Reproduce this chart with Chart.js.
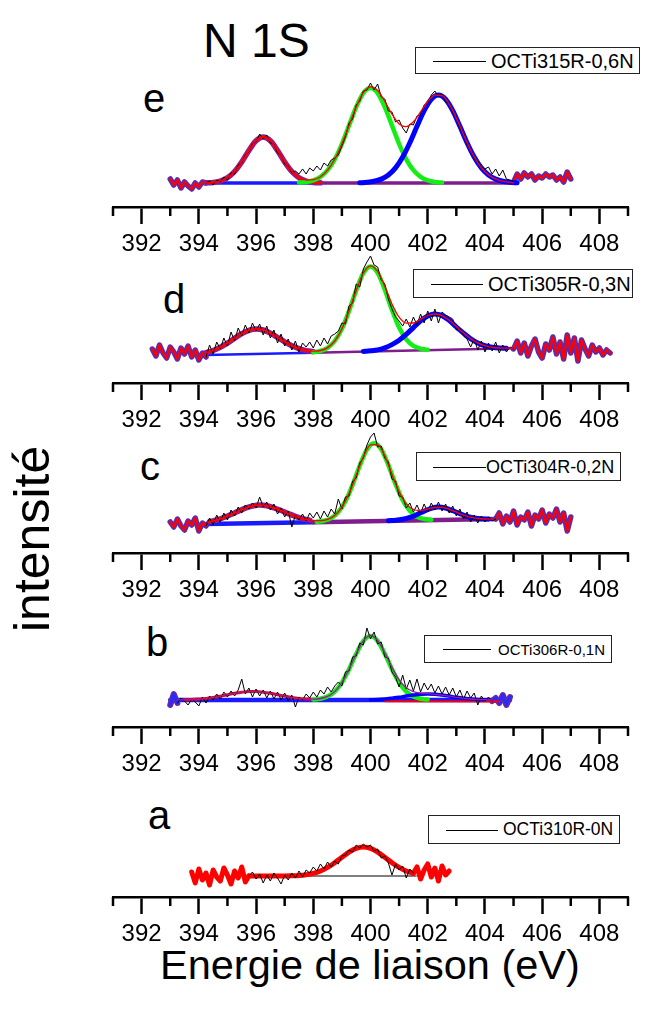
<!DOCTYPE html>
<html>
<head>
<meta charset="utf-8">
<script src="https://cdn.jsdelivr.net/npm/chart.js@4.4.0/dist/chart.umd.min.js"></script>
<style>
body { margin: 0; background: #fff; }
#page { position: relative; width: 662px; height: 1010px; overflow: hidden; font-family: 'Liberation Sans', Arial, sans-serif; }
#page canvas { position: absolute; left: 0; }
.txt { position: absolute; color: #000; white-space: nowrap; line-height: 1; }
.leg { position: absolute; box-sizing: border-box; border: 1px solid #222; background: #fff; }
.leg .ln { position: absolute; top: 50%; border-top: 1px solid #000; }
.leg .lt { position: absolute; top: 50%; transform: translateY(-50%); line-height: 1; white-space: nowrap; color: #000; }
</style>
</head>
<body>
<div id="page">
  <div class="txt" style="left:203px;top:17px;font-size:48px;">N 1S</div>
  <div class="txt" style="left:7px;top:632px;font-size:50px;transform-origin:0 0;transform:rotate(-90deg);">intensité</div>
  <div class="txt" style="left:160px;top:944px;font-size:41.5px;">Energie de liaison (eV)</div>

  <div class="txt" style="left:143px;top:78px;font-size:40px;">e</div>
  <div class="txt" style="left:163px;top:279px;font-size:40px;">d</div>
  <div class="txt" style="left:140px;top:446px;font-size:40px;">c</div>
  <div class="txt" style="left:146px;top:622px;font-size:40px;">b</div>
  <div class="txt" style="left:148px;top:795px;font-size:40px;">a</div>

  <canvas id="pe"></canvas>
  <canvas id="pd"></canvas>
  <canvas id="pc"></canvas>
  <canvas id="pb"></canvas>
  <canvas id="pa"></canvas>

  <div class="leg" style="left:415px;top:47px;width:225px;height:27px;"><span class="ln" style="left:17px;width:53px;"></span><span class="lt" style="left:75px;font-size:20px;">OCTi315R-0,6N</span></div>
  <div class="leg" style="left:413px;top:269px;width:220px;height:29px;"><span class="ln" style="left:17px;width:52px;"></span><span class="lt" style="left:74px;font-size:20px;">OCTi305R-0,3N</span></div>
  <div class="leg" style="left:416px;top:452px;width:205px;height:29px;"><span class="ln" style="left:16px;width:53px;"></span><span class="lt" style="left:69px;font-size:18px;">OCTi304R-0,2N</span></div>
  <div class="leg" style="left:424px;top:635px;width:188px;height:28px;"><span class="ln" style="left:18px;width:48px;"></span><span class="lt" style="left:73px;font-size:15px;">OCTi306R-0,1N</span></div>
  <div class="leg" style="left:428px;top:815px;width:192px;height:29px;"><span class="ln" style="left:17px;width:52px;"></span><span class="lt" style="left:74px;font-size:17.5px;">OCTi310R-0N</span></div>
</div>
<script>
// x axis
const majorTicks = [392, 394, 396, 398, 400, 402, 404, 406, 408];
const minorTicks = [391, 393, 395, 397, 399, 401, 403, 405, 407, 409];
const RAW_STEP = 0.125;
const FIT_STEP = 0.25;

// panel e  (OCTi315R-0,6N)
const eRawX0 = 393.0;
const eRaw = [28,22,27,19,25,21,18,24,20,25,24,
  26,22,27,25,30,27,34,33,42,44,52,55,63,65,73,68,72,64,63,54,52,43,41,34,36,33,38,33,39,36,
  41,37,44,41,47,49,52,61,70,84,88,102,106,116,117,124,117,123,110,108,96,95,85,87,79,74,83,82,
  91,92,102,104,112,116,110,113,105,104,94,90,78,74,62,58,48,46,40,38,40,33,38,31,37,28,27,25,
  33,28,34,30,33,27,31,29,33,30,32,27,30,25,35,28];
const eEnvX0 = 394.25;
const eEnv = [24,24.6,26,29.3,35.5,45,56.5,66.2,70,66.2,56.5,45,35.5,29.7,27,27.3,30.2,36.8,47.7,63,
  81.6,100,114.3,120.1,116.5,105.6,92.8,83.1,80.4,85.2,95.1,105.5,111.9,111.3,102.8,88.9,72.4,56.7,
  44.1,35.2,29.6,26.6,25.1,24.3];
const eGreenX0 = 397.5;
const eGreen = [24.4,25,26.7,30.2,36.8,47.7,63,81.6,100,113.9,119,113.9,100,81.6,63,47.7,36.8,30.2,26.7,25,24.4];
const eBlueX0 = 399.625;
const eBlue = [24.2,24.7,25.7,27.9,32,39.1,50,64.3,80.7,96.4,107.8,112,107.8,96.4,80.7,64.3,50,39.1,32,27.9,25.7,24.7,24.2];
const eRedX0 = 394.25;
const eRed = [24.2,24.6,26,29.3,35.5,45,56.5,66.2,70,66.2,56.5,45,35.5,29.3,26,24.6,24.2];
const eBaseX = [394.25, 398, 405];
const eBaseY = [24, 24, 24];

// panel d  (OCTi305R-0,3N)
const dRawX0 = 392.375;
const dRaw = [34,27,38,30,25,36,31,24,35,29,37,26,33,23,30,26,
  38,29,41,34,45,37,51,42,55,47,58,50,60,52,59,48,57,45,53,40,49,37,44,33,42,31,40,36,41,35,43,37,
  45,39,47,49,52,60,59,77,80,99,96,114,121,127,118,116,103,99,84,74,66,62,57,64,56,66,58,69,60,72,
  62,74,60,71,68,66,64,53,55,47,44,36,44,33,42,31,40,32,41,30,38,31,36,34,
  42,30,40,27,37,44,31,25,39,33,46,29,41,24,48,30,45,22,43,34,27,38,31,35,28,33,30];
const dEnvX0 = 394.25;
const dEnv = [30.3,32.5,35.7,39.9,44.7,49.4,52.7,54,53,49.9,45.6,41.2,37.2,34.3,32.4,31.9,32.5,35.4,42,54.1,
  72.1,92.6,110,117.2,111.5,96.6,79.1,65.9,59.9,60,63.7,67.5,69,67.4,62.7,56.4,49.9,44.3,40.1,37.4,
  35.7,35,34.8,34.8];
const dGreenX0 = 398.0;
const dGreen = [30.8,32,35.2,42,54.1,72.1,92.6,109.8,116.6,110.1,93.3,73,55.4,43.6,37.1,34.3,33.3];
const dBlueX0 = 399.75;
const dBlue = [31.6,32.2,33.1,35.2,38.4,42.7,48.7,55.4,62.1,67,69,67.4,62.7,56,49.9,44.3,40.1,37.4,35.7,35,34.8];
const dRedX0 = 394.25;
const dRed = [30.3,32.5,35.7,39.9,44.7,49.4,52.7,54,53,49.9,45.6,41.2,37.2,34.3,32.4,31.4];
const dBaseX = [394.25, 398, 405];
const dBaseY = [28, 30.3, 34.8];

// panel c  (OCTi304R-0,2N)
const cRawX0 = 393.0;
const cRaw = [31,26,34,27,23,32,28,35,22,30,27,
  35,28,38,31,40,33,43,37,46,40,48,44,50,45,56,46,51,43,49,39,45,36,42,26,38,33,39,32,40,35,
  41,34,42,36,44,39,54,44,56,57,72,75,90,95,108,116,120,106,107,95,91,74,72,57,56,45,50,41,48,40,
  49,41,50,43,51,42,49,40,47,37,44,34,41,31,38,30,37,31,36,32,34,
  40,29,37,31,42,28,36,33,41,27,38,34,43,30,39,35,44,31,40,22,36];
const cEnvX0 = 394.25;
const cEnv = [30.6,32,34.1,36.9,40.1,43.3,46,47.6,47.8,46.4,43.9,40.9,37.9,35.5,33.6,32.6,32.4,33.7,37.6,45.8,
  59.4,77.7,96.3,108.2,108.4,97.1,78.6,61.1,49.1,43.5,42.5,44,45.5,45.7,43.7,40.8,37.9,35.6,34.5,34,33.8];
const cGreenX0 = 398.125;
const cGreen = [31.3,32.3,34.9,41,51.9,68.2,87.4,103.5,109.8,103.7,87.9,68.9,52.9,42.2,36.3,34,33.2];
const cBlueX0 = 400.625;
const cBlue = [32.3,32.8,33.8,35.6,38.5,41.9,44.7,45.9,44.9,42.3,39.3,36.6,35,34.2,33.9];
const cRedX0 = 394.375;
const cRed = [31.3,33,35.5,38.4,41.7,44.8,47,47.9,47.2,45.2,42.5,39.4,36.7,34.4,32.9];
const cBaseX = [394.25, 398, 404.375];
const cBaseY = [29, 30.8, 33.9];

// panel b  (OCTi306R-0,1N)
const bRawX0 = 393.0;
const bRaw = [22,33,24,29,26,22,28,25,21,30,24,31,27,33,28,35,30,36,31,37,
  48,33,39,30,38,31,37,29,36,28,35,27,34,26,32,20,30,27,33,29,35,30,37,33,40,35,41,45,41,55,
  56,70,71,84,82,99,88,95,83,85,70,69,55,50,40,52,38,47,36,48,35,44,37,43,34,41,33,40,32,39,
  30,37,28,36,29,34,22,31,26,30,26,29,24,32,22,30];
const bEnvX0 = 393.25;
const bEnv = [27.1,27.3,27.5,28,28.6,29.6,30.9,32.3,33.7,34.8,35.4,35.4,34.8,33.7,32.3,30.9,29.6,28.6,28.2,27.9,
  28.5,30.6,35.4,44.5,57.8,73.2,86,91.3,86.5,74.2,59.6,47.2,39.3,35.4,33.9,33.4,32.7,31.9,30.9,29.7,
  28.8,28,27.5,27.3,27];
const bGreenX0 = 398.0;
const bGreen = [27.4,28.2,30.5,35.4,44.5,57.8,73.2,86,91,86,73.2,57.8,44.5,35.4,30.5,28.2,27.4];
const bBlueX0 = 400.0;
const bBlue = [27.3,27.5,28,28.8,29.7,30.9,31.9,32.7,33,32.7,31.9,30.9,29.7,28.8,28,27.5,27.3];
const bRedX0 = 393.5;
const bRed = [27.3,27.5,28,28.6,29.6,30.9,32.3,33.7,34.8,35.4,35.4,34.8,33.7,32.3,30.9,29.6,28.6,28,27.5,27.3];
const bRedTailX = [400.5, 404.5];
const bRedTailY = [25.8, 25.5];
const bBaseX = [393.0, 404.875];
const bBaseY = [27, 27];

// panel a  (OCTi310R-0N)
const aRawX0 = 393.75;
const aRaw = [25,14,28,17,24,12,27,20,16,29,22,13,26,19,30,15,21,
  25,18,23,14,22,16,24,19,13,22,17,24,19,26,20,27,24,30,26,33,28,35,30,36,33,41,42,47,45,52,
  49,53,50,52,46,48,39,41,34,22,33,27,31,19,28,24,
  30,18,27,33,20,29,16,31,22,26];
const aFitX0 = 395.75;
const aFit = [21,21,21,21,21,21,21.2,21.5,22.3,23.6,26,29.6,34.3,39.7,44.9,48.6,50,48.6,44.9,39.7,34.3,29.6,26,23.6];
const aBaseX = [397.0, 401.6];
const aBaseY = [21, 21];

Chart.defaults.font.family = "'Liberation Sans', Arial, sans-serif";

function pts(x0, step, ys) {
  return ys.map(function(y, i) { return {x: x0 + i * step, y: y}; });
}
function pairs(xs, ys) {
  return xs.map(function(x, i) { return {x: x, y: ys[i]}; });
}
// raw split: thin middle part, thick noisy ends
function mid(x0, ys, c1, c2) {
  return ys.map(function(y, i) { return {x: x0 + i * RAW_STEP, y: (i >= c1 && i <= c2) ? y : null}; });
}
function ends(x0, ys, c1, c2) {
  return ys.map(function(y, i) { return {x: x0 + i * RAW_STEP, y: (i <= c1 || i >= c2) ? y : null}; });
}
function line(data, color, width, smooth, extra) {
  return Object.assign({
    data: data, borderColor: color, borderWidth: width, pointRadius: 0, fill: false,
    tension: 0, cubicInterpolationMode: smooth ? 'monotone' : 'default',
    borderJoinStyle: 'round', borderCapStyle: 'round', spanGaps: false
  }, extra || {});
}
const splitColor = { segment: { borderColor: function(c) { return c.p0.parsed.x < 397.9 ? '#1a1aff' : '#7d1e8c'; } } };

const minorTickPlugin = {
  id: 'minorTickPlugin',
  afterDraw: function(chart) {
    const sx = chart.scales.x, ctx = chart.ctx, y0 = chart.chartArea.bottom;
    ctx.save();
    ctx.strokeStyle = '#000';
    ctx.lineWidth = 2.5;
    minorTicks.forEach(function(v) {
      const px = sx.getPixelForValue(v);
      ctx.beginPath();
      ctx.moveTo(px, y0);
      ctx.lineTo(px, y0 + 9);
      ctx.stroke();
    });
    ctx.restore();
  }
};

const H = 135;
function makePanel(id, axisY, datasets) {
  const cv = document.getElementById(id);
  cv.width = 662;
  cv.height = H + 50;
  cv.style.top = (axisY - H) + 'px';
  return new Chart(cv.getContext('2d'), {
    type: 'line',
    data: { datasets: datasets },
    plugins: [minorTickPlugin],
    options: {
      responsive: false,
      animation: false,
      devicePixelRatio: 1,
      events: [],
      layout: { padding: { left: 113, right: 34, top: 0, bottom: 0 } },
      plugins: { legend: { display: false }, tooltip: { enabled: false } },
      scales: {
        x: {
          type: 'linear', min: 391, max: 409,
          afterFit: function(s) { s.height = 50; },
          border: { display: true, color: '#000', width: 2.5 },
          grid: {
            drawOnChartArea: false, drawTicks: true, tickLength: 17, tickWidth: 2.5,
            tickColor: function(c) { return majorTicks.indexOf(c.tick.value) >= 0 ? '#000' : 'rgba(0,0,0,0)'; }
          },
          ticks: {
            stepSize: 1, autoSkip: false, maxRotation: 0, padding: 6,
            color: '#000', font: { size: 24 },
            callback: function(v) { return majorTicks.indexOf(v) >= 0 ? String(v) : ''; }
          }
        },
        y: { display: false, min: 0, max: H }
      }
    }
  });
}

// e
makePanel('pe', 207, [
  line(pts(eEnvX0, FIT_STEP, eEnv), '#ff0000', 1.3, true),
  line(mid(eRawX0, eRaw, 10, 96), '#000', 1, false),
  line(pts(eBlueX0, FIT_STEP, eBlue), '#0000ff', 5, true),
  line(pts(eGreenX0, FIT_STEP, eGreen), '#14ee14', 4.5, true),
  line(pts(eRedX0, FIT_STEP, eRed), '#ff0000', 2.5, true),
  line(pts(eRedX0, FIT_STEP, eRed), '#8a1f96', 5.5, true),
  line(ends(eRawX0, eRaw, 10, 96), '#ff0000', 2.2, false),
  line(ends(eRawX0, eRaw, 10, 96), '#5a2cb4', 5.5, false),
  line(pairs(eBaseX, eBaseY), '#7d1e8c', 3.5, false, splitColor)
]);

// d
makePanel('pd', 383, [
  line(pts(dEnvX0, FIT_STEP, dEnv), '#ff0000', 1.3, true),
  line(mid(dRawX0, dRaw, 15, 101), '#000', 1, false),
  line(pts(dBlueX0, FIT_STEP, dBlue), '#0000ff', 5, true),
  line(pts(dGreenX0, FIT_STEP, dGreen), '#14ee14', 4.5, true),
  line(pts(dRedX0, FIT_STEP, dRed), '#ff0000', 2.5, true),
  line(pts(dRedX0, FIT_STEP, dRed), '#8a1f96', 5.5, true),
  line(ends(dRawX0, dRaw, 15, 101), '#ff0000', 2.2, false),
  line(ends(dRawX0, dRaw, 15, 101), '#5a2cb4', 5.5, false),
  line(pairs(dBaseX, dBaseY), '#7d1e8c', 2.5, false, splitColor)
]);

// c
makePanel('pc', 553, [
  line(pts(cEnvX0, FIT_STEP, cEnv), '#ff0000', 1.3, true),
  line(mid(cRawX0, cRaw, 10, 91), '#000', 1, false),
  line(pts(cBlueX0, FIT_STEP, cBlue), '#0000ff', 5, true),
  line(pts(cGreenX0, FIT_STEP, cGreen), '#14ee14', 4.5, true),
  line(pts(cRedX0, FIT_STEP, cRed), '#ff0000', 2.5, true),
  line(pts(cRedX0, FIT_STEP, cRed), '#8a1f96', 5.5, true),
  line(ends(cRawX0, cRaw, 10, 91), '#ff0000', 2.2, false),
  line(ends(cRawX0, cRaw, 10, 91), '#5a2cb4', 5.5, false),
  line(pairs(cBaseX, cBaseY), '#7d1e8c', 4.5, false, splitColor)
]);

// b
makePanel('pb', 727, [
  line(pts(bEnvX0, FIT_STEP, bEnv), '#9a1aa0', 1.3, true),
  line(mid(bRawX0, bRaw, 2, 90), '#000', 1, false),
  line(pts(bBlueX0, FIT_STEP, bBlue), '#0000ff', 3.5, true),
  line(pts(bGreenX0, FIT_STEP, bGreen), '#14ee14', 4.5, true),
  line(pts(bRedX0, FIT_STEP, bRed), '#ff0000', 3, true),
  line(pairs(bRedTailX, bRedTailY), '#ff0000', 2, false),
  line(ends(bRawX0, bRaw, 2, 90), '#2a2aff', 3, false),
  line(ends(bRawX0, bRaw, 2, 90), '#6a2a9e', 6, false),
  line(pairs(bBaseX, bBaseY), '#1a1aff', 4.5, false)
]);

// a
makePanel('pa', 897, [
  line(mid(aRawX0, aRaw, 16, 62), '#000', 1, false),
  line(pts(aFitX0, FIT_STEP, aFit), '#ff0000', 5, true),
  line(ends(aRawX0, aRaw, 16, 62), '#ff0000', 5, false),
  line(pairs(aBaseX, aBaseY), '#000', 1, false)
]);
</script>
</body>
</html>
